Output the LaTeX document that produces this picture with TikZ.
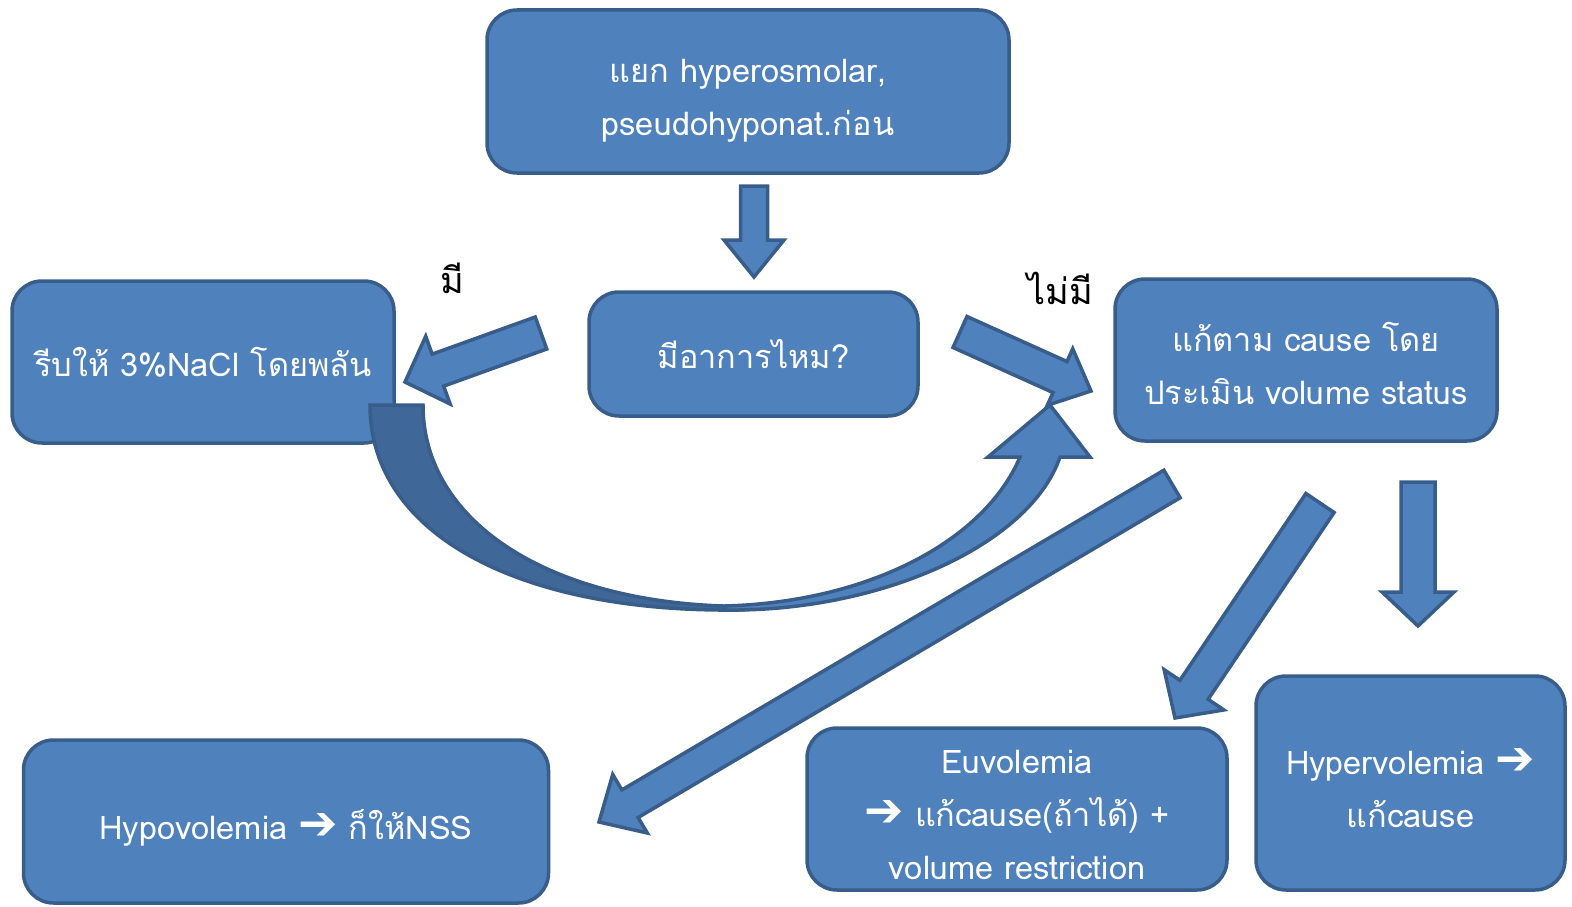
\documentclass[tikz,border=0pt]{standalone}
\usepackage{fontspec}
\newfontfamily\thaifont[Script=Thai]{Loma}
\newfontfamily\symfont{DejaVu Sans}
\usetikzlibrary{calc}
\definecolor{boxblue}{HTML}{4F81BD}
\definecolor{boxline}{HTML}{385D8A}
\definecolor{backblue}{HTML}{3F6797}
\tikzset{
  stepbox/.style={draw=boxline, fill=boxblue, line width=3.5pt, rounded corners=30pt,
    text=white, align=center, inner sep=0pt,
    font=\thaifont\fontsize{32.5}{53}\selectfont},
  blockarr/.style={draw=boxline, fill=boxblue, line width=3.5pt, line join=miter},
  answer/.style={font=\thaifont\fontsize{36}{40}\selectfont}
}
% thick white arrow inside the boxes
\newcommand{\ra}{{\symfont\bfseries\fontsize{47}{53}\selectfont ➔}}
% stacked lines, set a little lower than the box centre
\newcommand{\boxlines}[1]{\raisebox{-7pt}[\height][\depth]{\begin{tabular}{@{}c@{}}#1\end{tabular}}}
% block arrow: tail, tip, half shaft width, half head width, head length
\newcommand{\blockarrow}[5]{%
  \coordinate (hb) at ($(#2)!#5!(#1)$);
  \draw[blockarr] ($(#1)!#3!90:(#2)$) -- ($(hb)!#3!90:(#2)$) -- ($(hb)!#4!90:(#2)$)
    -- (#2) -- ($(hb)!#4!-90:(#2)$) -- ($(hb)!#3!-90:(#2)$) -- ($(#1)!#3!-90:(#2)$) -- cycle;
}
\begin{document}
\begin{tikzpicture}[x=1pt, y=-1pt]
  \useasboundingbox (0,0) rectangle (1572,907);

  % boxes
  \node[stepbox, minimum width=522pt, minimum height=163pt] (top) at (748,91.5)
    {\boxlines{แยก hyperosmolar,\\pseudohyponat.ก่อน}};
  \node[stepbox, minimum width=382pt, minimum height=162pt] (rapid) at (203,362)
    {รีบให้ 3\%NaCl โดยพลัน};
  \node[stepbox, minimum width=329pt, minimum height=124pt] (symp) at (753.5,354)
    {มีอาการไหม?};
  \node[stepbox, minimum width=382pt, minimum height=162pt] (cause) at (1306,360)
    {\boxlines{แก้ตาม cause โดย\\ประเมิน volume status}};
  \node[stepbox, minimum width=525pt, minimum height=163pt] (hypo) at (286,821.5)
    {\boxlines{Hypovolemia \ra\ ก็ให้NSS}};
  \node[stepbox, minimum width=420pt, minimum height=162pt] (euvo) at (1017,809)
    {\boxlines{Euvolemia\\\ra\ แก้cause(ถ้าได้) +\\volume restriction}};
  \node[stepbox, minimum width=309pt, minimum height=214pt] (hyper) at (1410.5,783)
    {\boxlines{Hypervolemia \ra\\แก้cause}};

  % answers
  \node[answer] (yes) at (452,278) {มี};
  \node[answer] (no) at (1060,288) {ไม่มี};

  % arrow ends
  \coordinate (a1t) at (754,186);   \coordinate (a1h) at (754,277);
  \coordinate (a2t) at (541,333);   \coordinate (a2h) at (405,382);
  \coordinate (a3t) at (960,332);   \coordinate (a3h) at (1091,391);
  \coordinate (a4t) at (1172,484);  \coordinate (a4h) at (599,822);
  \coordinate (a5t) at (1320,503);  \coordinate (a5h) at (1175,718);
  \coordinate (a6t) at (1418,482);  \coordinate (a6h) at (1418,626);

  % curved arrow from rapid to cause
  \draw[blockarr, fill=backblue] (370,405) .. controls (370,535) and (520,612) .. (735,610)
    -- (723,606) .. controls (545,600) and (423,520) .. (423,405) -- cycle;
  \draw[blockarr] (725,610) .. controls (880,612) and (1030,545) .. (1060,457)
    -- (1090,457) -- (1050,405) -- (988,457) -- (1020,457)
    .. controls (985,540) and (870,602) .. (725,606) -- cycle;

  % straight arrows
  \blockarrow{a1t}{a1h}{13.5pt}{30pt}{37pt}
  \blockarrow{a2t}{a2h}{17pt}{36pt}{35pt}
  \blockarrow{a3t}{a3h}{17pt}{31pt}{34pt}
  \blockarrow{a4t}{a4h}{16pt}{34pt}{36pt}
  \blockarrow{a5t}{a5h}{17pt}{36pt}{34pt}
  \blockarrow{a6t}{a6h}{17pt}{36pt}{34pt}
\end{tikzpicture}
\end{document}
